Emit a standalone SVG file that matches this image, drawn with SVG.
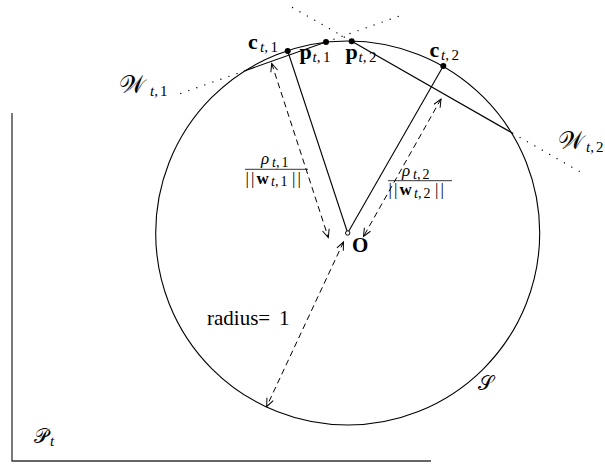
<svg xmlns="http://www.w3.org/2000/svg" width="605" height="467" viewBox="0 0 605 467">
<style>
.ln{stroke:#000;stroke-width:1.1;fill:none}
.ax{stroke:#333;stroke-width:1.3;fill:none}
.dt{stroke:#000;stroke-width:1.4;stroke-dasharray:0.01 8.5;stroke-linecap:round;fill:none}
.ds{stroke:#000;stroke-width:1;stroke-dasharray:6 4;fill:none;marker-start:url(#ah);marker-end:url(#ah)}
.pt{fill:#000}
.bar{stroke:#000;stroke-width:0.8}
text{font-family:"Liberation Serif","DejaVu Serif","DejaVu Sans",serif;fill:#000}
.it{font-style:italic}
.bf{font-weight:bold}
.m{font-size:22px}
.s{font-size:15px}
.w{font-size:25px}
.f{font-size:17px}
.fs{font-size:14px}
</style>
<defs>
<marker id="ah" viewBox="-10 -5 12 10" refX="0" refY="0" markerWidth="12" markerHeight="10" orient="auto-start-reverse" markerUnits="userSpaceOnUse">
<path d="M-8,-3.5 L0,0 L-8,3.5" fill="none" stroke="#000" stroke-width="1"/>
</marker>
</defs>
<g id="axes">
<path class="ax" d="M12,113 L12,461 L431,461"/>
</g>
<g id="sphere">
<circle class="ln" cx="347.7" cy="233" r="192"/>
</g>
<g id="connectors">
<path class="ln" d="M347.7,233 L287.7,51"/>
<path class="ln" d="M347.7,233 L443.3,66"/>
<path class="ln" d="M245,70.7 L326,42"/>
<path class="ln" d="M351.7,41.3 L512.7,133.3"/>
<path class="dt" d="M245,70.7 L180,93.7"/>
<path class="dt" d="M326,42 L400,15.8"/>
<path class="dt" d="M351.7,41.3 L288,5"/>
<path class="dt" d="M512.7,133.3 L580,171.7"/>
<path class="ds" d="M271.7,63.5 L328.3,237.5"/>
<path class="ds" d="M441,99 L363.5,236.5"/>
<path class="ds" d="M343.5,242 L266.7,406.5"/>
</g>
<g id="c1">
<circle class="pt" cx="287.7" cy="51" r="3"/>
<text class="m bf" x="248" y="49">c</text>
<text class="s" x="260" y="52"><tspan class="it">t</tspan>,<tspan dx="2.5">1</tspan></text>
</g>
<g id="p1">
<circle class="pt" cx="326" cy="42" r="3"/>
<text class="m bf" x="299.5" y="59">p</text>
<text class="s" x="312.5" y="62"><tspan class="it">t</tspan>,<tspan dx="2.5">1</tspan></text>
</g>
<g id="p2">
<circle class="pt" cx="351.7" cy="41.3" r="3"/>
<text class="m bf" x="345.5" y="59">p</text>
<text class="s" x="358.5" y="62"><tspan class="it">t</tspan>,<tspan dx="2.5">2</tspan></text>
</g>
<g id="c2">
<circle class="pt" cx="443.3" cy="66" r="3"/>
<text class="m bf" x="429.5" y="56.5">c</text>
<text class="s" x="441" y="59.5"><tspan class="it">t</tspan>,<tspan dx="2.5">2</tspan></text>
</g>
<g id="W1">
<text class="w" x="119" y="93">𝒲</text>
<text class="s" x="150" y="96"><tspan class="it">t</tspan>,<tspan dx="2">1</tspan></text>
</g>
<g id="W2">
<text class="w" x="558" y="149">𝒲</text>
<text class="s" x="586" y="152"><tspan class="it">t</tspan>,<tspan dx="2">2</tspan></text>
</g>
<g id="O">
<circle cx="347.7" cy="233" r="2.2" fill="#fff" stroke="#000" stroke-width="1"/>
<text class="bf" x="352" y="251.5" font-size="21">O</text>
</g>
<g id="frac1">
<text class="f it" x="261" y="163.5">ρ</text>
<text class="fs" x="272" y="166.5"><tspan class="it">t</tspan>,<tspan dx="2">1</tspan></text>
<path class="bar" d="M245,169.3 L308,169.3"/>
<text class="f" y="183.5"><tspan x="245.5" letter-spacing="2">||</tspan><tspan x="256.5" class="bf">w</tspan><tspan x="271" dy="2.5" class="fs"><tspan class="it">t</tspan>,<tspan dx="2">1</tspan></tspan><tspan x="292" dy="-2.5" letter-spacing="2">||</tspan></text>
</g>
<g id="frac2">
<text class="f it" x="402" y="175.5">ρ</text>
<text class="fs" x="413" y="178.5"><tspan class="it">t</tspan>,<tspan dx="2">2</tspan></text>
<path class="bar" d="M388,180.7 L452,180.7"/>
<text class="f" y="195"><tspan x="388.5" letter-spacing="2">||</tspan><tspan x="399.5" class="bf">w</tspan><tspan x="414" dy="2.5" class="fs"><tspan class="it">t</tspan>,<tspan dx="2">2</tspan></tspan><tspan x="435" dy="-2.5" letter-spacing="2">||</tspan></text>
</g>
<g id="radius">
<text font-size="21" x="207" y="325">radius= <tspan x="279">1</tspan></text>
</g>
<g id="S">
<text x="478" y="390" font-size="20">𝒮</text>
</g>
<g id="P">
<text x="34" y="443" font-size="20">𝒫</text>
<text class="s it" x="50" y="446">t</text>
</g>
</svg>
